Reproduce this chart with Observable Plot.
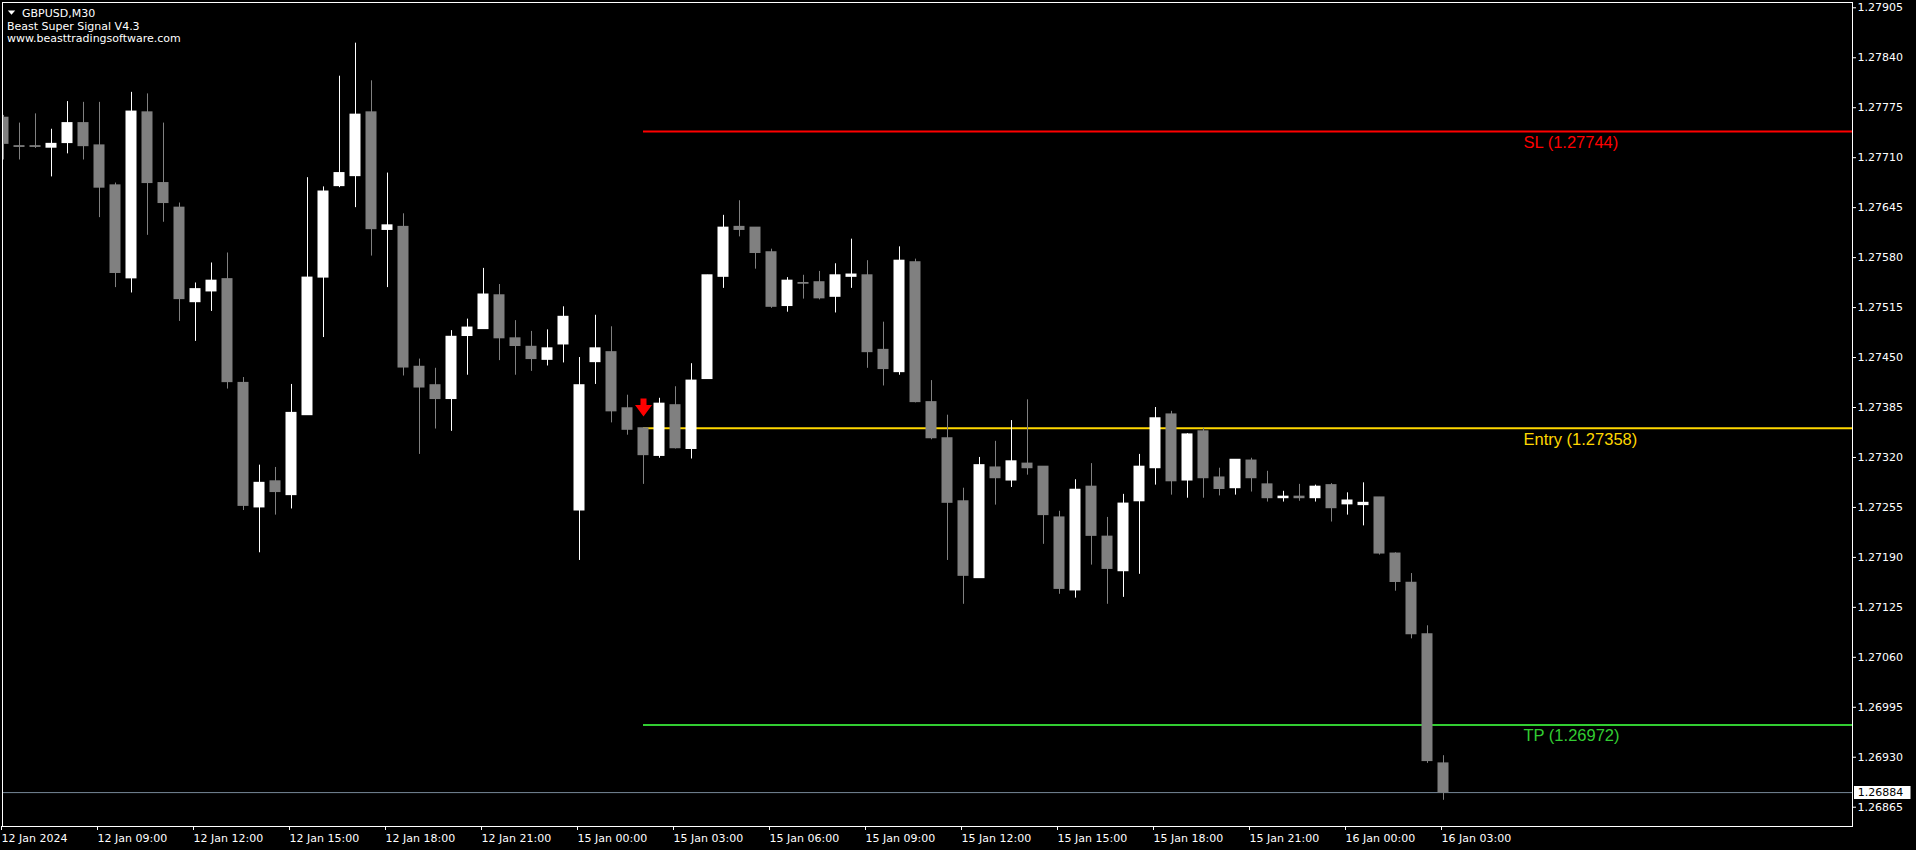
<!DOCTYPE html>
<html>
<head>
<meta charset="utf-8">
<script src="https://cdn.jsdelivr.net/npm/d3@7"></script>
<script src="https://cdn.jsdelivr.net/npm/@observablehq/plot@0.6"></script>
<style>
html,body{margin:0;padding:0;background:#000;overflow:hidden;}
#chart svg{display:block;}
</style>
</head>
<body>
<div id="chart"></div>
<script>
// ---- Data (GBPUSD M30, bar 0 = 12 Jan 06:00, bar 90 = 16 Jan 03:00) ----
const open = [
1.27762,1.27725,1.27725,1.27723,1.27729,1.27755,1.27726,1.27674,1.27553,1.27769,
1.27677,1.27645,1.27522,1.27536,1.27552,1.27417,1.27255,1.27289,1.27271,1.27375,
1.27554,1.27673,1.27686,1.27769,1.27616,1.27620,1.27438,1.27414,1.27396,1.27478,
1.27487,1.27531,1.27475,1.27464,1.27447,1.27467,1.27251,1.27444,1.27457,1.27384,
1.27358,1.27322,1.27388,1.27331,1.27422,1.27555,1.27620,1.27619,1.27587,1.27517,
1.27547,1.27548,1.27529,1.27555,1.27557,1.27460,1.27431,1.27574,1.27392,1.27345,
1.27263,1.27163,1.27307,1.27290,1.27312,1.27308,1.27242,1.27147,1.27282,1.27217,
1.27172,1.27263,1.27306,1.27376,1.27290,1.27354,1.27294,1.27280,1.27316,1.27285,
1.27267,1.27269,1.27267,1.27284,1.27259,1.27258,1.27268,1.27195,1.27157,1.27090,
1.26922];
const high = [
1.27765,1.27755,1.27767,1.27747,1.27783,1.27782,1.27782,1.27677,1.27795,1.27793,
1.27755,1.27651,1.27547,1.27573,1.27586,1.27424,1.27310,1.27307,1.27415,1.27684,
1.27672,1.27816,1.27859,1.27810,1.27690,1.27637,1.27448,1.27436,1.27485,1.27500,
1.27566,1.27545,1.27498,1.27484,1.27486,1.27516,1.27450,1.27505,1.27490,1.27401,
1.27358,1.27397,1.27412,1.27442,1.27557,1.27635,1.27654,1.27619,1.27591,1.27554,
1.27557,1.27562,1.27572,1.27604,1.27576,1.27496,1.27594,1.27578,1.27420,1.27375,
1.27280,1.27320,1.27341,1.27368,1.27395,1.27308,1.27250,1.27291,1.27312,1.27242,
1.27272,1.27324,1.27385,1.27380,1.27351,1.27358,1.27306,1.27317,1.27319,1.27302,
1.27276,1.27285,1.27284,1.27286,1.27274,1.27287,1.27268,1.27196,1.27169,1.27101,
1.26932];
const low = [
1.27707,1.27707,1.27722,1.27685,1.27715,1.27707,1.27632,1.27541,1.27534,1.27609,
1.27626,1.27497,1.27471,1.27510,1.27409,1.27251,1.27196,1.27245,1.27253,1.27375,
1.27476,1.27671,1.27645,1.27582,1.27541,1.27426,1.27324,1.27357,1.27354,1.27427,
1.27487,1.27446,1.27427,1.27432,1.27439,1.27443,1.27186,1.27415,1.27365,1.27349,
1.27285,1.27319,1.27331,1.27318,1.27422,1.27540,1.27607,1.27565,1.27514,1.27509,
1.27526,1.27525,1.27508,1.27540,1.27436,1.27413,1.27427,1.27391,1.27343,1.27186,
1.27129,1.27163,1.27258,1.27281,1.27297,1.27207,1.27142,1.27137,1.27180,1.27129,
1.27138,1.27168,1.27284,1.27271,1.27267,1.27267,1.27270,1.27271,1.27275,1.27262,
1.27262,1.27263,1.27262,1.27236,1.27245,1.27231,1.27193,1.27146,1.27084,1.26922,
1.26874];
const close = [
1.27728,1.27724,1.27724,1.27728,1.27755,1.27725,1.27671,1.27560,1.27770,1.27677,
1.27651,1.27526,1.27539,1.27550,1.27418,1.27257,1.27287,1.27275,1.27378,1.27554,
1.27666,1.27690,1.27766,1.27617,1.27622,1.27437,1.27411,1.27396,1.27477,1.27489,
1.27532,1.27475,1.27465,1.27448,1.27462,1.27503,1.27414,1.27462,1.27380,1.27356,
1.27323,1.27390,1.27332,1.27420,1.27557,1.27619,1.27616,1.27586,1.27516,1.27550,
1.27546,1.27527,1.27557,1.27558,1.27457,1.27435,1.27576,1.27392,1.27345,1.27261,
1.27166,1.27310,1.27293,1.27315,1.27306,1.27245,1.27149,1.27278,1.27218,1.27175,
1.27260,1.27308,1.27371,1.27289,1.27350,1.27293,1.27279,1.27317,1.27293,1.27267,
1.27269,1.27267,1.27282,1.27254,1.27264,1.27261,1.27195,1.27158,1.27090,1.26925,
1.26884];

const xTickBars = [0,6,12,18,24,30,36,42,48,54,60,66,72,78,84,90];
const xTickLabels = ["12 Jan 2024","12 Jan 09:00","12 Jan 12:00","12 Jan 15:00","12 Jan 18:00","12 Jan 21:00",
  "15 Jan 00:00","15 Jan 03:00","15 Jan 06:00","15 Jan 09:00","15 Jan 12:00","15 Jan 15:00",
  "15 Jan 18:00","15 Jan 21:00","16 Jan 00:00","16 Jan 03:00"];
const yTicks = [1.26865,1.26930,1.26995,1.27060,1.27125,1.27190,1.27255,1.27320,1.27385,
  1.27450,1.27515,1.27580,1.27645,1.27710,1.27775,1.27840,1.27905];

const levelNames = ["SL","Entry","TP"];
const levelPrices = [1.27744, 1.27358, 1.26972];
const signalBar = 40;
const signalArrowPrice = 1.27385;
const labelBar = 95;
const currentPrice = 1.26884;
const headerLines = ["GBPUSD,M30","Beast Super Signal V4.3","www.beasttradingsoftware.com"];

// ---- Build tables ----
const xDomain = [-0.0625, 115.5625];
const yDomain = [1.268399, 1.279119];
const bars = open.map((o, i) => ({i, o, h: high[i], l: low[i], c: close[i], up: close[i] > o}));
const levels = levelNames.map((name, k) => ({name, price: levelPrices[k]}));
const levelColor = {SL: "#ff0000", Entry: "#ffd700", TP: "#32cd32"};
const BEAR = "#808080", BULL = "#ffffff";

// custom marker shapes
const arrowSymbol = {draw(ctx) {
  ctx.moveTo(-3, -9); ctx.lineTo(3, -9); ctx.lineTo(3, -2.5);
  ctx.lineTo(8.5, -2.5); ctx.lineTo(0, 9); ctx.lineTo(-8.5, -2.5);
  ctx.lineTo(-3, -2.5); ctx.closePath();
}};
const triSymbol = {draw(ctx) {
  ctx.moveTo(-3.7, -2); ctx.lineTo(3.7, -2); ctx.lineTo(0, 2.2); ctx.closePath();
}};
const boxSymbol = {draw(ctx) {
  ctx.moveTo(1.5, -6.5); ctx.lineTo(58, -6.5); ctx.lineTo(58, 6.5); ctx.lineTo(1.5, 6.5); ctx.closePath();
}};

const FONT = "'DejaVu Sans', sans-serif";

const chart = Plot.plot({
  width: 1916,
  height: 850,
  marginLeft: 2,
  marginRight: 64,
  marginTop: 2,
  marginBottom: 24,
  style: {background: "#000", color: "#fff", fontFamily: FONT, fontSize: "11px", overflow: "visible"},
  x: {domain: xDomain, axis: null, label: null},
  y: {domain: yDomain, axis: null, label: null},
  marks: [
    // current price line
    Plot.ruleY([currentPrice], {stroke: "#778899", strokeWidth: 1}),
    // SL / Entry / TP lines from the signal bar to the right edge
    Plot.ruleY(levels, {y: "price", x1: () => signalBar, x2: () => xDomain[1], stroke: d => levelColor[d.name], strokeWidth: 2}),
    // wicks
    Plot.ruleX(bars, {x: "i", y1: "l", y2: "h", stroke: d => d.up ? BULL : BEAR, strokeWidth: 1, clip: true}),
    // bodies
    Plot.rect(bars, {
      x1: d => d.i - 0.34375, x2: d => d.i + 0.34375, y1: "o", y2: "c",
      fill: d => d.up ? BULL : BEAR, insetTop: -0.5, insetBottom: -0.5, clip: true
    }),
    // signal arrow
    Plot.dot([signalArrowPrice], {x: () => signalBar, y: d => d, symbol: arrowSymbol, fill: "#ff0000", stroke: null}),
    // level labels
    Plot.text(levels, {
      x: () => labelBar, y: "price", text: d => `${d.name} (${d.price.toFixed(5)})`,
      fill: d => levelColor[d.name], textAnchor: "start", lineAnchor: "bottom", dy: 16.5,
      fontFamily: "'Liberation Sans', Arial, sans-serif", fontSize: 16.5
    }),
    // frame
    Plot.frame({stroke: "#fff"}),
    // axes
    Plot.axisY(yTicks, {anchor: "right", label: null, tickSize: 3, tickPadding: 2, tickFormat: d => d.toFixed(5), fontFamily: FONT, fontSize: 11}),
    Plot.axisX(xTickBars, {anchor: "bottom", label: null, tickSize: 4, tickPadding: 4, textAnchor: "start", dx: -2,
      tickFormat: d => xTickLabels[xTickBars.indexOf(d)], fontFamily: FONT, fontSize: 11}),
    // current price box
    Plot.dot([currentPrice], {y: d => d, frameAnchor: "right", symbol: boxSymbol, fill: "#fff", stroke: null}),
    Plot.text([currentPrice], {y: d => d, frameAnchor: "right", text: d => d.toFixed(5), textAnchor: "start",
      dx: 5.3, fill: "#000", fontFamily: FONT, fontSize: 11}),
    // header
    Plot.dot([0], {frameAnchor: "top-left", dx: 9, dy: 10, symbol: triSymbol, fill: "#fff", stroke: null}),
    Plot.text([headerLines[0]], {frameAnchor: "top-left", dx: 19.5, dy: 14.7, textAnchor: "start", lineAnchor: "bottom", fill: "#fff", fontFamily: FONT, fontSize: 11}),
    Plot.text([headerLines[1]], {frameAnchor: "top-left", dx: 4.5, dy: 27.3, textAnchor: "start", lineAnchor: "bottom", fill: "#fff", fontFamily: FONT, fontSize: 11}),
    Plot.text([headerLines[2]], {frameAnchor: "top-left", dx: 4.5, dy: 39.7, textAnchor: "start", lineAnchor: "bottom", fill: "#fff", fontFamily: FONT, fontSize: 11})
  ]
});
document.getElementById("chart").append(chart);
</script>
</body>
</html>
